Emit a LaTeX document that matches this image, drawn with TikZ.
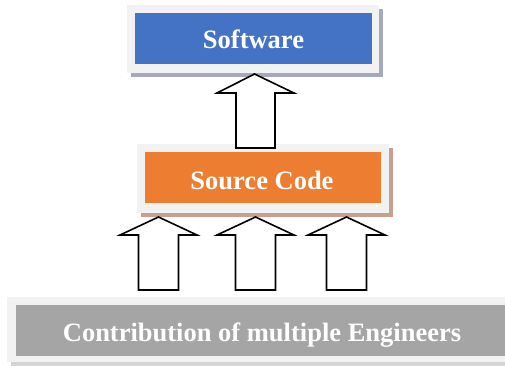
\documentclass[tikz,border=0pt]{standalone}
\usepackage{fontspec}
\setmainfont{Liberation Serif}
\definecolor{frameg}{HTML}{F2F2F2}
\definecolor{boxblue}{HTML}{4472C4}
\definecolor{boxorange}{HTML}{ED7D31}
\definecolor{boxgray}{HTML}{A5A5A5}
\definecolor{shblue}{HTML}{A3AABB}
\definecolor{shorange}{HTML}{C9A08E}
\definecolor{shgray}{HTML}{D4D4D4}
\begin{document}
\begin{tikzpicture}[x=1pt,y=-1pt,
  frame/.style={fill=frameg, inner sep=0pt, outer sep=0pt, draw=none},
  shadowbox/.style={inner sep=0pt, outer sep=0pt, draw=none},
  colorbox/.style={inner sep=0pt, outer sep=0pt, draw=none},
  labeltext/.style={inner sep=0pt, outer sep=0pt, anchor=base, text=white,
    font=\fontsize{26.5}{30}\selectfont\bfseries},
  blockarrow/.style={draw=black, fill=white, line width=1.6pt, line join=miter}]
\useasboundingbox (0,0) rectangle (505,365);
\fill[white] (0,0) rectangle (505,365);
\begin{scope}
\clip (0,0) rectangle (505,365);
% Software
\node[shadowbox, fill=shblue, minimum width=252pt, minimum height=68pt] (swsh) at (257,43) {};
\node[frame, minimum width=252pt, minimum height=68pt] (swf) at (253,39) {};
\node[colorbox, fill=boxblue, minimum width=237pt, minimum height=51pt] (swb) at (253.5,38.5) {};
\node[labeltext] (sw) at (253.5,48.5) {Software};
% Source code
\node[shadowbox, fill=shorange, minimum width=252pt, minimum height=69pt] (scsh) at (267,182.5) {};
\node[frame, minimum width=252pt, minimum height=69pt] (scf) at (263,178.5) {};
\node[colorbox, fill=boxorange, minimum width=236pt, minimum height=51pt] (scb) at (263,177.5) {};
\node[labeltext] (sc) at (262,189.5) {Source Code};
% Contribution
\node[shadowbox, fill=shgray, minimum width=510pt, minimum height=65pt] (cesh) at (266,333.5) {};
\node[frame, minimum width=510pt, minimum height=65pt] (cef) at (262,329.5) {};
\node[colorbox, fill=boxgray, minimum width=492pt, minimum height=51pt] (ceb) at (262,330.5) {};
\node[labeltext] (ce) at (262,341.5) {Contribution of multiple Engineers};
\end{scope}
% block arrows
\draw[blockarrow] (254.5,74) -- (294,93) -- (275,93) -- (275,148) -- (236,148) -- (236,93) -- (217,93) -- cycle;
\foreach \cx in {158.5, 255.5, 346.5}{
  \draw[blockarrow] (\cx,217) -- (\cx+38.5,235) -- (\cx+20,235) -- (\cx+20,290)
    -- (\cx-20,290) -- (\cx-20,235) -- (\cx-38.5,235) -- cycle;
}
\end{tikzpicture}
\end{document}
